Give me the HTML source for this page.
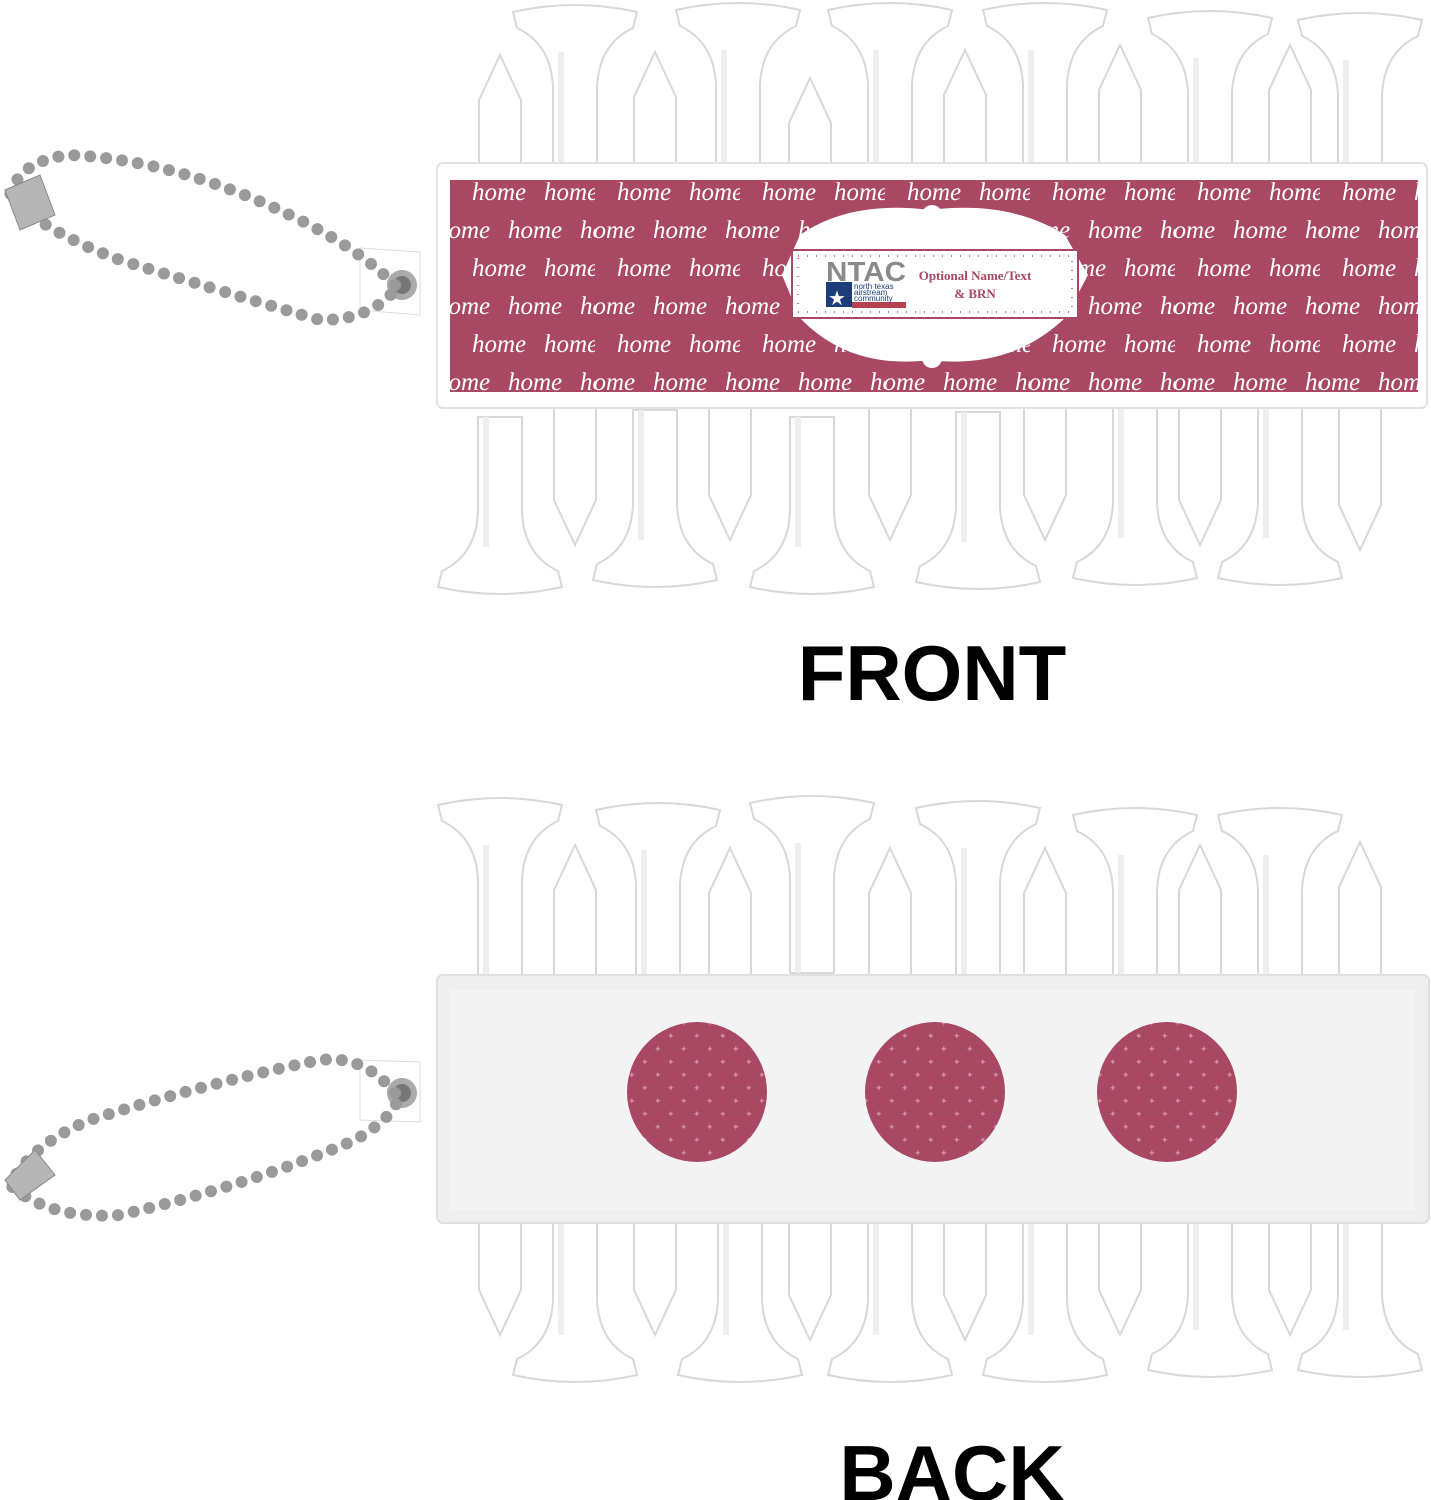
<!DOCTYPE html>
<html><head><style>
html,body{margin:0;padding:0;background:#fff;}
svg{display:block}
</style></head><body>
<svg width="1431" height="1500" viewBox="0 0 1431 1500" xmlns="http://www.w3.org/2000/svg">
<defs>
 <g id="head"><path d="M-62,0 Q0,-14 62,0 L58,16 Q24,32 22,75 L22,170 L-22,170 L-22,75 Q-24,32 -58,16 Z" fill="#fff" stroke="#d8d8d8" stroke-width="2"/><path d="M-14,40 L-14,170" stroke="#eee" stroke-width="6"/></g>
 <g id="spike"><path d="M-21,170 L-21,45 L0,0 L21,45 L21,170 Z" fill="#fff" stroke="#d8d8d8" stroke-width="2"/></g>
 <pattern id="homes" x="450" y="170" width="145" height="76" patternUnits="userSpaceOnUse">
  <text x="22" y="30" font-family="Liberation Serif, serif" font-style="italic" font-size="25" fill="#fff">home</text>
  <text x="94" y="30" font-family="Liberation Serif, serif" font-style="italic" font-size="25" fill="#fff">home</text>
  <text x="-14" y="68" font-family="Liberation Serif, serif" font-style="italic" font-size="25" fill="#fff">home</text>
  <text x="58" y="68" font-family="Liberation Serif, serif" font-style="italic" font-size="25" fill="#fff">home</text>
  <text x="130" y="68" font-family="Liberation Serif, serif" font-style="italic" font-size="25" fill="#fff">home</text>
 </pattern>
 <pattern id="dots" width="26" height="26" patternUnits="userSpaceOnUse">
  <rect width="26" height="26" fill="#a84863"/>
  <text x="4" y="12" font-size="9" fill="#d48aa0" font-family="Liberation Sans, sans-serif">✦</text>
  <text x="17" y="25" font-size="9" fill="#d48aa0" font-family="Liberation Sans, sans-serif">✦</text>
 </pattern>
</defs>

<!-- FRONT top tees -->
<use href="#spike" x="500" y="55"/><use href="#spike" x="655" y="52"/><use href="#spike" x="810" y="78"/>
<use href="#spike" x="965" y="50"/><use href="#spike" x="1120" y="45"/><use href="#spike" x="1290" y="45"/>
<use href="#head" x="575" y="12"/><use href="#head" x="738" y="10"/><use href="#head" x="890" y="10"/>
<use href="#head" x="1045" y="10"/><use href="#head" x="1210" y="18"/><use href="#head" x="1360" y="20"/>
<!-- FRONT bottom tees -->
<g transform="translate(0,990) scale(1,-1)">
<use href="#spike" x="575" y="445"/><use href="#spike" x="730" y="450"/><use href="#spike" x="890" y="450"/>
<use href="#spike" x="1045" y="450"/><use href="#spike" x="1200" y="445"/><use href="#spike" x="1360" y="440"/>
<use href="#head" x="500" y="403"/><use href="#head" x="655" y="410"/><use href="#head" x="812" y="403"/>
<use href="#head" x="978" y="408"/><use href="#head" x="1135" y="412"/><use href="#head" x="1280" y="412"/>
</g>
<!-- front holder -->
<rect x="437" y="163" width="990" height="245" rx="6" fill="#fff" stroke="#e2e2e2" stroke-width="2"/>
<rect x="450" y="180" width="968" height="212" fill="#a84863"/>
<rect x="450" y="180" width="968" height="212" fill="url(#homes)"/>
<!-- center label -->
<path d="M800,235 Q850,200 930,210 Q1010,200 1065,235 L1088,275 L1065,318 Q1010,370 930,360 Q850,370 800,318 L782,275 Z" fill="#fff"/>
<circle cx="932" cy="215" r="10" fill="#fff"/><circle cx="932" cy="358" r="10" fill="#fff"/>
<rect x="792" y="250" width="286" height="68" fill="#fff" stroke="#a84863" stroke-width="2"/>
<rect x="798" y="256" width="274" height="56" fill="none" stroke="#a84863" stroke-width="1.5" stroke-dasharray="1 8"/>
<text x="826" y="281" font-family="Liberation Sans, sans-serif" font-weight="bold" font-size="28" fill="#8a8a8a" textLength="80" lengthAdjust="spacingAndGlyphs">NTAC</text>
<rect x="826" y="282" width="26" height="25" fill="#1d3d7a"/>
<text x="828" y="305" font-size="20" fill="#fff" font-family="DejaVu Sans, sans-serif">★</text>
<rect x="852" y="302" width="54" height="6" fill="#b5404f"/>
<text x="854" y="289" font-family="Liberation Sans, sans-serif" font-size="8" fill="#1d3d7a">north texas</text>
<text x="854" y="295" font-family="Liberation Sans, sans-serif" font-size="8" fill="#1d3d7a">airstream</text>
<text x="854" y="301" font-family="Liberation Sans, sans-serif" font-size="8" fill="#1d3d7a">community</text>
<text x="975" y="280" text-anchor="middle" font-family="Liberation Serif, serif" font-weight="bold" font-size="13" fill="#a84863">Optional Name/Text</text>
<text x="975" y="298" text-anchor="middle" font-family="Liberation Serif, serif" font-weight="bold" font-size="13" fill="#a84863">&amp; BRN</text>

<!-- front tab & chain -->
<path d="M360,248 L420,252 L420,315 L360,310 Z" fill="#fff" stroke="#ddd"/>
<circle cx="402" cy="285" r="15" fill="#aaa"/><circle cx="402" cy="285" r="9" fill="#777"/>
<path d="M395,285 Q360,250 300,220 Q180,160 70,155 Q20,160 10,195 Q40,230 120,260 Q250,300 320,320 Q370,320 395,290" fill="none" stroke="#9a9a9a" stroke-width="12" stroke-linecap="round" stroke-dasharray="0 16"/>
<path d="M5,190 L40,175 L55,215 L20,230 Z" fill="#b5b5b5" stroke="#888"/>

<text x="932" y="700" text-anchor="middle" font-family="Liberation Sans, sans-serif" font-weight="bold" font-size="78" fill="#000">FRONT</text>

<!-- BACK top tees -->
<use href="#spike" x="575" y="845"/><use href="#spike" x="730" y="848"/><use href="#spike" x="890" y="848"/>
<use href="#spike" x="1045" y="848"/><use href="#spike" x="1200" y="845"/><use href="#spike" x="1360" y="842"/>
<use href="#head" x="500" y="805"/><use href="#head" x="658" y="810"/><use href="#head" x="812" y="803"/>
<use href="#head" x="978" y="808"/><use href="#head" x="1135" y="815"/><use href="#head" x="1280" y="815"/>
<!-- BACK bottom tees -->
<g transform="translate(0,2590) scale(1,-1)">
<use href="#spike" x="500" y="1255"/><use href="#spike" x="655" y="1255"/><use href="#spike" x="810" y="1250"/>
<use href="#spike" x="965" y="1250"/><use href="#spike" x="1120" y="1255"/><use href="#spike" x="1290" y="1255"/>
<use href="#head" x="575" y="1215"/><use href="#head" x="740" y="1215"/><use href="#head" x="890" y="1215"/>
<use href="#head" x="1045" y="1215"/><use href="#head" x="1210" y="1220"/><use href="#head" x="1360" y="1220"/>
</g>
<rect x="437" y="975" width="992" height="248" rx="6" fill="#efefef" stroke="#e0e0e0" stroke-width="2"/>
<rect x="450" y="990" width="965" height="220" fill="#f3f3f3"/>
<circle cx="697" cy="1092" r="70" fill="url(#dots)"/>
<circle cx="935" cy="1092" r="70" fill="url(#dots)"/>
<circle cx="1167" cy="1092" r="70" fill="url(#dots)"/>

<!-- back tab & chain -->
<path d="M360,1060 L420,1062 L420,1122 L360,1120 Z" fill="#fff" stroke="#ddd"/>
<circle cx="402" cy="1093" r="15" fill="#aaa"/><circle cx="402" cy="1093" r="9" fill="#777"/>
<path d="M395,1093 Q360,1050 310,1062 Q200,1085 90,1120 Q30,1145 10,1185 Q50,1220 120,1215 Q250,1185 355,1140 Q390,1120 398,1100" fill="none" stroke="#9a9a9a" stroke-width="12" stroke-linecap="round" stroke-dasharray="0 16"/>
<path d="M5,1180 L35,1150 L55,1175 L20,1200 Z" fill="#b5b5b5" stroke="#888"/>

<text x="952" y="1500" text-anchor="middle" font-family="Liberation Sans, sans-serif" font-weight="bold" font-size="78" fill="#000">BACK</text>
</svg>
</body></html>
